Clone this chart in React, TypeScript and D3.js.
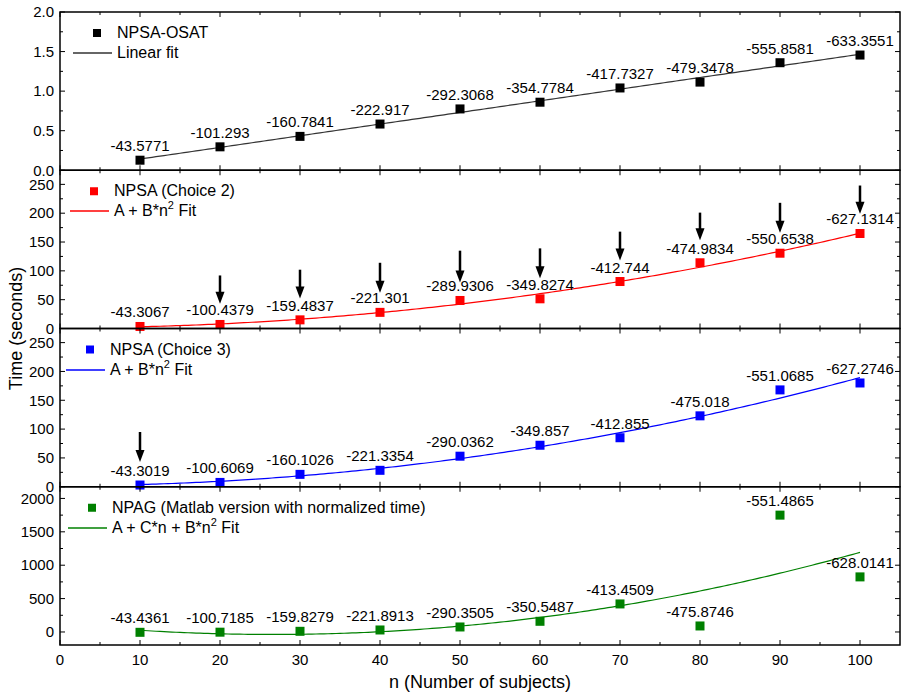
import React from "react";
import * as d3 from "d3";

// subjects on the x axis
const nValues = [10, 20, 30, 40, 50, 60, 70, 80, 90, 100];

// times (seconds)
const osatTime = [0.127, 0.296, 0.428, 0.584, 0.775, 0.86, 1.04, 1.114, 1.359, 1.456];
const choice2Time = [3.5, 7, 15, 28, 48.6, 51.5, 81.5, 114, 130.6, 164.8];
const choice3Time = [3, 7.5, 21.5, 28.5, 53, 72, 85, 123, 168, 180];
const npagTime = [-5, -3, 10, 30, 75, 160, 420, 90, 1750, 825];

// value labels printed above each point
const osatLabels = ["-43.5771", "-101.293", "-160.7841", "-222.917", "-292.3068", "-354.7784", "-417.7327", "-479.3478", "-555.8581", "-633.3551"];
const choice2Labels = ["-43.3067", "-100.4379", "-159.4837", "-221.301", "-289.9306", "-349.8274", "-412.744", "-474.9834", "-550.6538", "-627.1314"];
const choice3Labels = ["-43.3019", "-100.6069", "-160.1026", "-221.3354", "-290.0362", "-349.857", "-412.855", "-475.018", "-551.0685", "-627.2746"];
const npagLabels = ["-43.4361", "-100.7185", "-159.8279", "-221.8913", "-290.3505", "-350.5487", "-413.4509", "-475.8746", "-551.4865", "-628.0141"];

// arrows: x, tail value, tip value
const choice2Arrows = [
  [20, 92, 43], [30, 102, 52], [40, 114, 62], [50, 135, 80], [60, 139, 87],
  [70, 168, 118], [80, 201, 153], [90, 218, 166], [100, 248, 199],
];
const choice3Arrows = [[10, 95, 43]];

const xTicks = [0, 10, 20, 30, 40, 50, 60, 70, 80, 90, 100];

const W = 905, H = 694;
const left = 60, right = 900, top = 12, bottom = 645;
const FONT = "'Liberation Sans', Arial, sans-serif";

// least squares with arbitrary basis functions
function lsq(xs: number[], ys: number[], basis: ((x: number) => number)[]) {
  const k = basis.length;
  const M = Array.from({ length: k }, () => new Array(k + 1).fill(0));
  xs.forEach((x, i) => {
    const f = basis.map(b => b(x));
    for (let r = 0; r < k; r++) {
      for (let c = 0; c < k; c++) M[r][c] += f[r] * f[c];
      M[r][k] += f[r] * ys[i];
    }
  });
  for (let p = 0; p < k; p++) {
    for (let r = p + 1; r < k; r++) {
      const m = M[r][p] / M[p][p];
      for (let c = p; c <= k; c++) M[r][c] -= m * M[p][c];
    }
  }
  const coef = new Array(k).fill(0);
  for (let r = k - 1; r >= 0; r--) {
    let s = M[r][k];
    for (let c = r + 1; c < k; c++) s -= M[r][c] * coef[c];
    coef[r] = s / M[r][r];
  }
  return (x: number) => basis.reduce((s, b, i) => s + coef[i] * b(x), 0);
}

const one = () => 1;
const lin = (x: number) => x;
const sq = (x: number) => x * x;

const panels = [
  {
    values: osatTime, labels: osatLabels, domain: [0, 2], major: 0.5, minor: 0.25,
    fmt: d3.format(".1f"), color: "#000", fitColor: "#333",
    fit: lsq(nValues, osatTime, [one, lin]),
    legend: ["NPSA-OSAT", "Linear fit"], arrows: [] as number[][],
  },
  {
    values: choice2Time, labels: choice2Labels, domain: [0, 274.5], major: 50, minor: 25,
    fmt: d3.format("d"), color: "#ff0000", fitColor: "#ff0000",
    fit: lsq(nValues, choice2Time, [one, sq]),
    legend: ["NPSA (Choice 2)", "A + B*n|2| Fit"], arrows: choice2Arrows,
  },
  {
    values: choice3Time, labels: choice3Labels, domain: [0, 274.5], major: 50, minor: 25,
    fmt: d3.format("d"), color: "#0000ff", fitColor: "#0000ff",
    fit: lsq(nValues, choice3Time, [one, sq]),
    legend: ["NPSA (Choice 3)", "A + B*n|2| Fit"], arrows: choice3Arrows,
  },
  {
    values: npagTime, labels: npagLabels, domain: [-195, 2175], major: 500, minor: 250,
    fmt: d3.format("d"), color: "#008000", fitColor: "#008000",
    fit: lsq(nValues, npagTime, [one, lin, sq]),
    legend: ["NPAG (Matlab version with normalized time)", "A + C*n + B*n|2| Fit"], arrows: [] as number[][],
  },
];

const x = d3.scaleLinear().domain([0, 105]).range([left, right]);
const xMinor = d3.range(0, 105, 5);
const ph = (bottom - top) / panels.length;

function LegendText({ text, xPos, yPos }: { text: string; xPos: number; yPos: number }) {
  const parts = text.split("|");
  if (parts.length === 1) return <text x={xPos} y={yPos} fontSize={16}>{text}</text>;
  return (
    <text x={xPos} y={yPos} fontSize={16}>
      {parts[0]}
      <tspan fontSize={11} dy={-7}>{parts[1]}</tspan>
      <tspan dy={7}>{parts[2]}</tspan>
    </text>
  );
}

function Panel({ p, i }: { p: (typeof panels)[number]; i: number }) {
  const y0 = top + i * ph, y1 = y0 + ph;
  const y = d3.scaleLinear().domain(p.domain).range([y1, y0]);
  const majors = d3.range(Math.ceil(p.domain[0] / p.major) * p.major, p.domain[1] + 1e-9, p.major);
  const minors = d3.range(Math.ceil(p.domain[0] / p.minor) * p.minor, p.domain[1] + 1e-9, p.minor)
    .filter(v => Math.abs(v / p.major - Math.round(v / p.major)) > 1e-6);
  const curveX = d3.range(10, 100.01, 0.5);
  const line = d3.line<number>().x(d => x(d)).y(d => y(p.fit(d)));
  const lx = 74 + (i === 0 ? 3 : i === 2 ? -4 : i === 3 ? -2 : 0);
  const legLineY = Math.round(y0 + 41);
  return (
    <g>
      <defs>
        <clipPath id={`clip${i}`}>
          <rect x={left} y={y0} width={right - left} height={ph} />
        </clipPath>
      </defs>
      {/* ticks, inward on all four sides */}
      {xTicks.map(t => (
        <g key={`xt${t}`} stroke="#000" strokeWidth={1}>
          <line x1={x(t)} x2={x(t)} y1={y1} y2={y1 - 5} />
          <line x1={x(t)} x2={x(t)} y1={y0} y2={y0 + 5} />
        </g>
      ))}
      {xMinor.filter(t => t % 10 !== 0).map(t => (
        <g key={`xm${t}`} stroke="#000" strokeWidth={1}>
          <line x1={x(t)} x2={x(t)} y1={y1} y2={y1 - 3} />
          <line x1={x(t)} x2={x(t)} y1={y0} y2={y0 + 3} />
        </g>
      ))}
      {majors.map(v => (
        <g key={`ym${v}`}>
          <line x1={left} x2={left + 5} y1={y(v)} y2={y(v)} stroke="#000" />
          <line x1={right} x2={right - 5} y1={y(v)} y2={y(v)} stroke="#000" />
          <text x={left - 6} y={y(v)} dy="0.35em" textAnchor="end" fontSize={15}>{p.fmt(v)}</text>
        </g>
      ))}
      {minors.map(v => (
        <g key={`yn${v}`} stroke="#000">
          <line x1={left} x2={left + 3} y1={y(v)} y2={y(v)} />
          <line x1={right} x2={right - 3} y1={y(v)} y2={y(v)} />
        </g>
      ))}
      <path d={line(curveX) || ""} fill="none" stroke={p.fitColor} strokeWidth={1.2} clipPath={`url(#clip${i})`} />
      {nValues.map((n, k) => (
        <g key={`pt${n}`}>
          <rect x={x(n) - 4.5} y={y(p.values[k]) - 4.5} width={9} height={9} fill={p.color} />
          <text x={x(n)} y={y(p.values[k]) - 9} textAnchor="middle" fontSize={15}>{p.labels[k]}</text>
        </g>
      ))}
      {p.arrows.map(([ax, tail, tip]) => (
        <g key={`ar${ax}`} fill="#000">
          <line x1={x(ax)} x2={x(ax)} y1={y(tail)} y2={y(tip) - 10} stroke="#000" strokeWidth={2.5} />
          <path d={`M${x(ax) - 4.5},${y(tip) - 12}L${x(ax) + 4.5},${y(tip) - 12}L${x(ax)},${y(tip)}Z`} />
        </g>
      ))}
      {/* legend */}
      <rect x={lx + 16} y={y0 + 17} width={8} height={8} fill={p.color} />
      <text x={lx + 40} y={y0 + 26} fontSize={16}>{p.legend[0]}</text>
      <line x1={lx - 4} x2={lx + 35} y1={legLineY} y2={legLineY} stroke={p.fitColor} strokeWidth={1.5} />
      <LegendText text={p.legend[1]} xPos={lx + 40} yPos={y0 + 46} />
      <rect x={left} y={y0} width={right - left} height={ph} fill="none" stroke="#000" strokeWidth={1.5} />
    </g>
  );
}

export default function App() {
  return (
    <svg width={W} height={H} style={{ position: "absolute", left: 0, top: 0, background: "#fff" }}
      fontFamily={FONT} fontSize={15}>
      {panels.map((p, i) => <Panel key={i} p={p} i={i} />)}
      {xTicks.map(t => (
        <text key={t} x={x(t)} y={bottom + 20} textAnchor="middle" fontSize={15}>{t}</text>
      ))}
      <text x={(left + right) / 2} y={bottom + 43} textAnchor="middle" fontSize={18}>n (Number of subjects)</text>
      <text transform={`translate(22,${(top + bottom) / 2}) rotate(-90)`} textAnchor="middle" fontSize={18}>Time (seconds)</text>
    </svg>
  );
}
